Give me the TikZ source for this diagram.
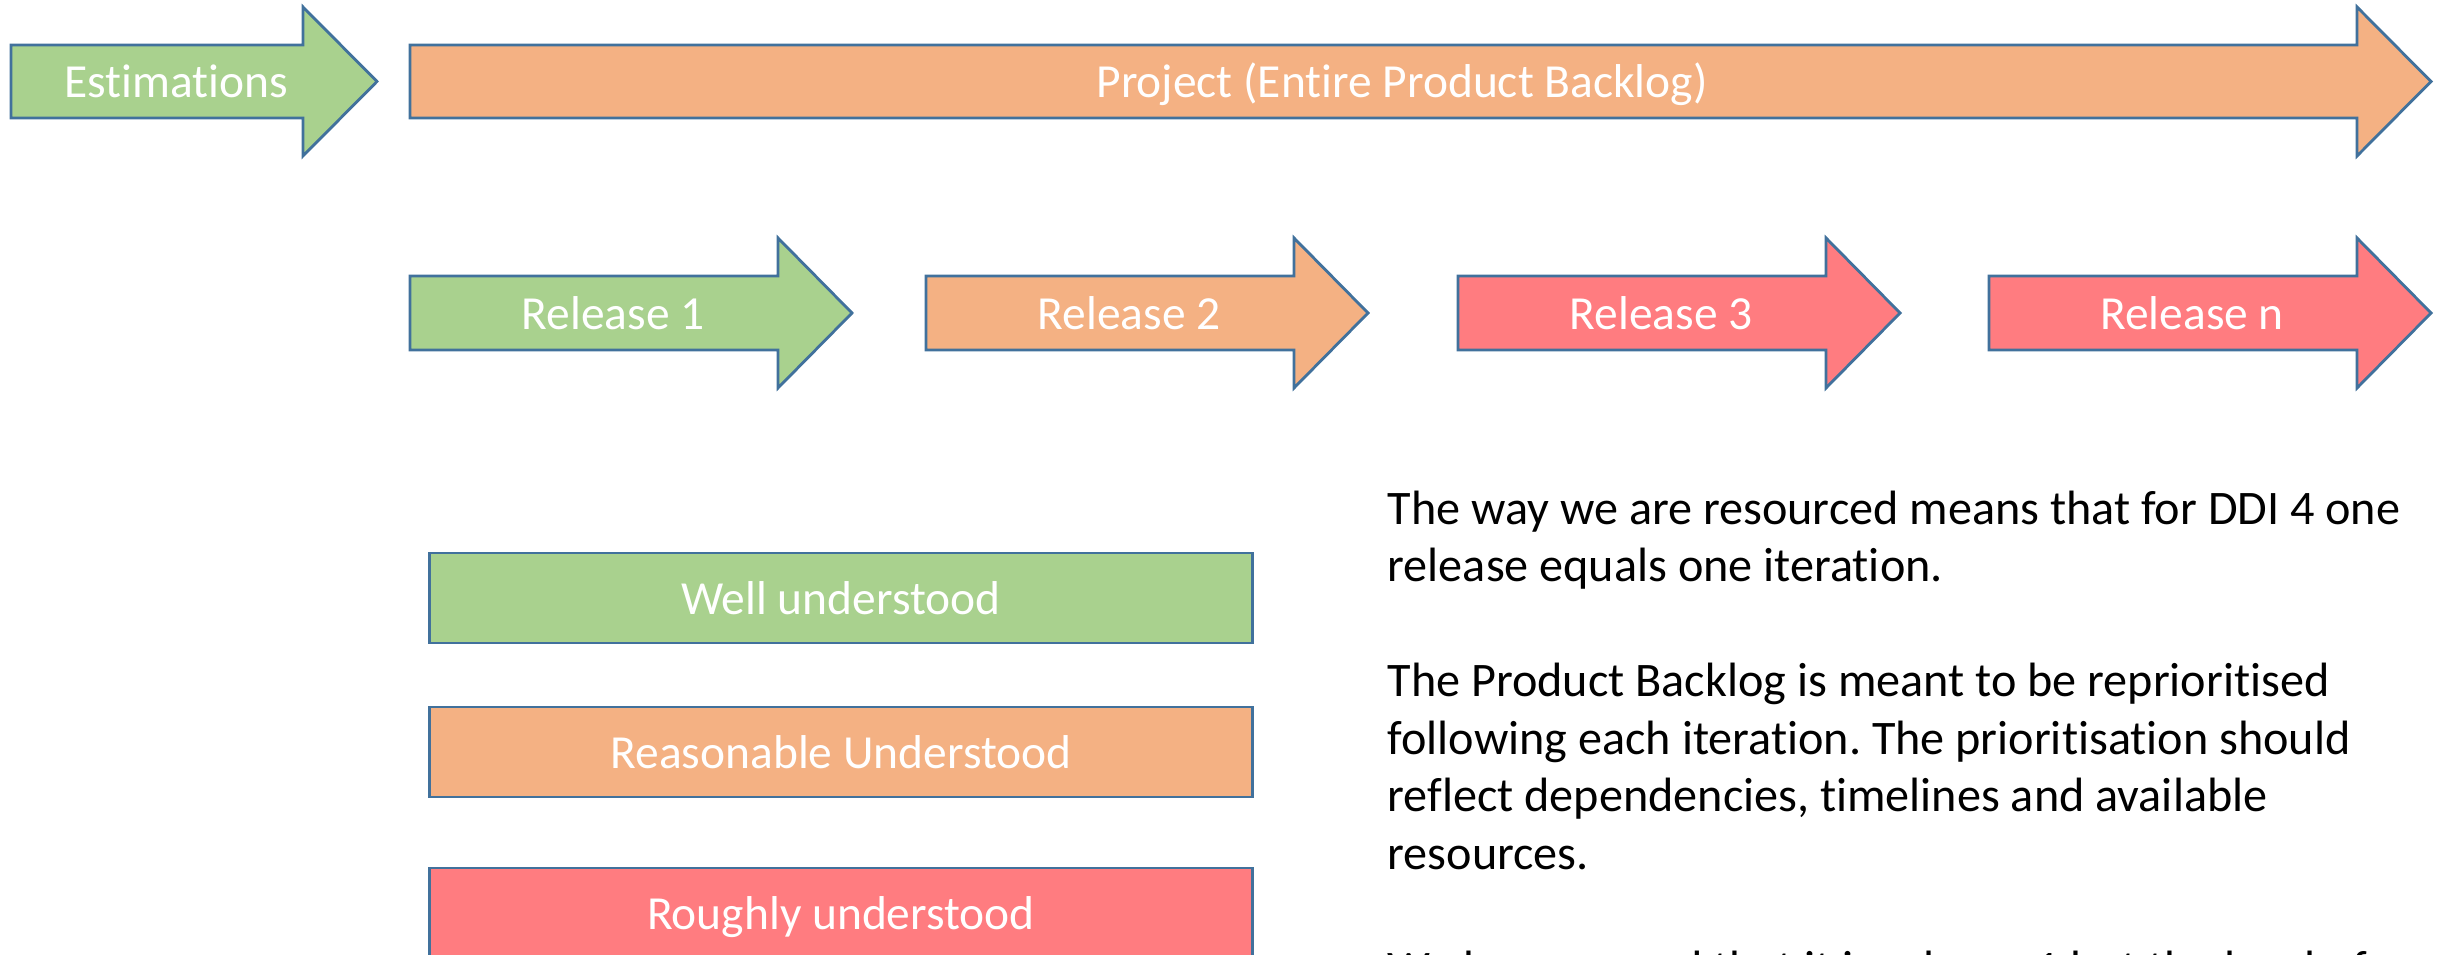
\documentclass[tikz,border=0pt]{standalone}
\usepackage{fontspec}
\setmainfont{Carlito}[Ligatures=NoCommon]
\usepackage{tikz}
\usetikzlibrary{positioning}
\frenchspacing

\definecolor{wellgreen}{HTML}{A9D18E}
\definecolor{fairorange}{HTML}{F4B183}
\definecolor{roughred}{HTML}{FF7C80}
\definecolor{edgeblue}{HTML}{41719C}

\begin{document}
\begin{tikzpicture}[x=0.01cm, y=-0.01cm,
    shaft/.style={draw=edgeblue, line width=0.8pt, line join=miter},
    label/.style={text=white, font=\fontsize{13.5}{16}\selectfont, inner sep=0pt, text height=0.32cm, text depth=0pt},
    legend/.style={shaft, rectangle, minimum width=8.22cm, minimum height=0.9cm, label},
    note/.style={font=\fontsize{13.7}{16.35}\selectfont, align=left, inner sep=0pt}
]

\path[use as bounding box] (0,0) rectangle (2446,955);
\clip (0,0) rectangle (2446,955);

% Top row - estimations, then the whole backlog
\draw[shaft, fill=wellgreen] (11,45) -- (303,45) -- (303,7) -- (377,81.5) -- (303,156) -- (303,118) -- (11,118) -- cycle;
\node[label] (estimations) at (176,81.5) {Estimations};

\draw[shaft, fill=fairorange] (410,45) -- (2357,45) -- (2357,7) -- (2431,81.5) -- (2357,156) -- (2357,118) -- (410,118) -- cycle;
\node[label] (project) at (1402,81.5) {Project (Entire Product Backlog)};

% Releases
\foreach \x/\c/\n/\t in {410/wellgreen/rel1/Release 1, 926/fairorange/rel2/Release 2,
                         1458/roughred/rel3/Release 3, 1989/roughred/reln/Release n} {
  \draw[shaft, fill=\c] (\x,276) -- ++(368,0) -- ++(0,-38) -- ++(74,75) -- ++(-74,75) -- ++(0,-38) -- ++(-368,0) -- cycle;
  \node[label] (\n) at (\x+203,313) {\t};
}

% Colour key
\node[legend, fill=wellgreen] (well) at (841,598) {Well understood};
\node[legend, fill=fairorange] (reasonable) at (841,752) {Reasonable Understood};
\node[legend, fill=roughred] (rough) at (841,913) {Roughly understood};

% Notes on the right
\node[note, anchor=north west] (notes) at (1387,490) {%
  The way we are resourced means that for DDI 4 one\\
  release equals one iteration.\\[16.35pt]
  The Product Backlog is meant to be reprioritised\\
  following each iteration. The prioritisation should\\
  reflect dependencies, timelines and available\\
  resources.\\[16.35pt]
  We have agreed that it is release 1 but the level of};

\end{tikzpicture}
\end{document}
